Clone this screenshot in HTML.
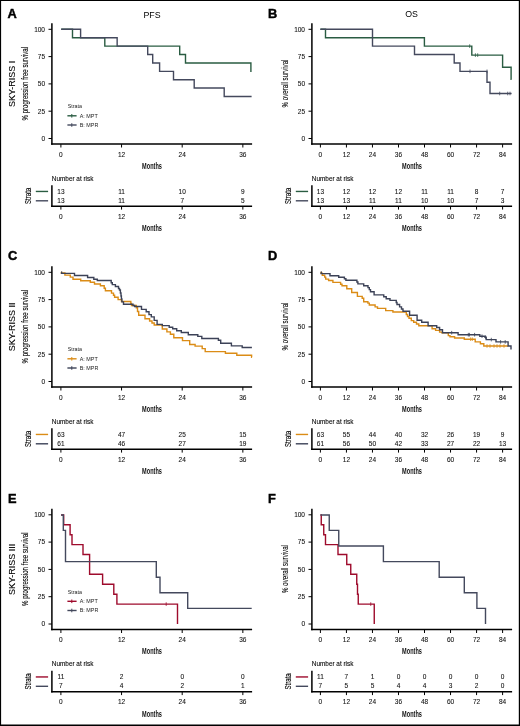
<!DOCTYPE html><html><head><meta charset="utf-8"><style>html,body{margin:0;padding:0;background:#fff;overflow:hidden;width:520px;height:726px;}svg{display:block;will-change:transform;}text{font-family:"Liberation Sans", sans-serif;}</style></head><body>
<svg width="520" height="726" viewBox="0 0 520 726">
<rect x="0" y="0" width="520" height="726" fill="#fff"/>
<text x="7.50" y="17.70" font-size="12.8" text-anchor="start" fill="#000" font-weight="bold" stroke="#000" stroke-width="0.45">A</text>
<text x="152.00" y="17.95" font-size="8.8" text-anchor="middle" fill="#000" font-weight="normal" >PFS</text>
<text transform="translate(14.90,83.80) rotate(-90)" x="0" y="0" font-size="9" text-anchor="middle" fill="#000" font-weight="normal" stroke="#000" stroke-width="0.1">SKY-RISS I</text>
<text transform="translate(27.50,83.70) rotate(-90)" x="0" y="0" font-size="8.6" text-anchor="middle" fill="#000" font-weight="normal" textLength="73.5" lengthAdjust="spacingAndGlyphs" stroke="#000" stroke-width="0.1">% progression free survival</text>
<line x1="51.90" y1="23.20" x2="51.90" y2="144.85" stroke="#000" stroke-width="1.5" stroke-linecap="butt"/>
<line x1="51.15" y1="144.10" x2="252.10" y2="144.10" stroke="#000" stroke-width="1.5" stroke-linecap="butt"/>
<line x1="48.50" y1="29.30" x2="51.90" y2="29.30" stroke="#000" stroke-width="1.0" stroke-linecap="butt"/>
<text x="45.00" y="31.60" font-size="6.5" text-anchor="end" fill="#111" font-weight="normal" stroke="#111" stroke-width="0.08">100</text>
<line x1="48.50" y1="56.60" x2="51.90" y2="56.60" stroke="#000" stroke-width="1.0" stroke-linecap="butt"/>
<text x="45.00" y="58.90" font-size="6.5" text-anchor="end" fill="#111" font-weight="normal" stroke="#111" stroke-width="0.08">75</text>
<line x1="48.50" y1="83.90" x2="51.90" y2="83.90" stroke="#000" stroke-width="1.0" stroke-linecap="butt"/>
<text x="45.00" y="86.20" font-size="6.5" text-anchor="end" fill="#111" font-weight="normal" stroke="#111" stroke-width="0.08">50</text>
<line x1="48.50" y1="111.20" x2="51.90" y2="111.20" stroke="#000" stroke-width="1.0" stroke-linecap="butt"/>
<text x="45.00" y="113.50" font-size="6.5" text-anchor="end" fill="#111" font-weight="normal" stroke="#111" stroke-width="0.08">25</text>
<line x1="48.50" y1="138.50" x2="51.90" y2="138.50" stroke="#000" stroke-width="1.0" stroke-linecap="butt"/>
<text x="45.00" y="140.80" font-size="6.5" text-anchor="end" fill="#111" font-weight="normal" stroke="#111" stroke-width="0.08">0</text>
<line x1="60.90" y1="144.10" x2="60.90" y2="147.50" stroke="#000" stroke-width="1.0" stroke-linecap="butt"/>
<text x="60.90" y="156.90" font-size="6.5" text-anchor="middle" fill="#111" font-weight="normal" stroke="#111" stroke-width="0.08">0</text>
<line x1="121.55" y1="144.10" x2="121.55" y2="147.50" stroke="#000" stroke-width="1.0" stroke-linecap="butt"/>
<text x="121.55" y="156.90" font-size="6.5" text-anchor="middle" fill="#111" font-weight="normal" stroke="#111" stroke-width="0.08">12</text>
<line x1="182.20" y1="144.10" x2="182.20" y2="147.50" stroke="#000" stroke-width="1.0" stroke-linecap="butt"/>
<text x="182.20" y="156.90" font-size="6.5" text-anchor="middle" fill="#111" font-weight="normal" stroke="#111" stroke-width="0.08">24</text>
<line x1="242.85" y1="144.10" x2="242.85" y2="147.50" stroke="#000" stroke-width="1.0" stroke-linecap="butt"/>
<text x="242.85" y="156.90" font-size="6.5" text-anchor="middle" fill="#111" font-weight="normal" stroke="#111" stroke-width="0.08">36</text>
<text x="152.00" y="168.90" font-size="9" text-anchor="middle" fill="#111" font-weight="bold" textLength="19.8" lengthAdjust="spacingAndGlyphs">Months</text>
<text x="67.80" y="108.00" font-size="6" text-anchor="start" fill="#222" font-weight="normal" textLength="14.2" lengthAdjust="spacingAndGlyphs">Strata</text>
<line x1="67.40" y1="115.80" x2="76.60" y2="115.80" stroke="#2a5c42" stroke-width="1.4" stroke-linecap="butt"/>
<line x1="71.80" y1="114.00" x2="71.80" y2="117.60" stroke="#2a5c42" stroke-width="1.0" stroke-linecap="butt"/>
<text x="79.70" y="117.70" font-size="6" text-anchor="start" fill="#222" font-weight="normal" textLength="18.0" lengthAdjust="spacingAndGlyphs">A: MPT</text>
<line x1="67.40" y1="125.00" x2="76.60" y2="125.00" stroke="#44495d" stroke-width="1.4" stroke-linecap="butt"/>
<line x1="71.80" y1="123.20" x2="71.80" y2="126.80" stroke="#44495d" stroke-width="1.0" stroke-linecap="butt"/>
<text x="79.70" y="126.90" font-size="6" text-anchor="start" fill="#222" font-weight="normal" textLength="18.6" lengthAdjust="spacingAndGlyphs">B: MPR</text>
<text x="51.85" y="180.80" font-size="6.4" text-anchor="start" fill="#000" font-weight="normal" stroke="#000" stroke-width="0.08">Number at risk</text>
<line x1="51.90" y1="185.30" x2="51.90" y2="207.00" stroke="#000" stroke-width="1.5" stroke-linecap="butt"/>
<line x1="51.15" y1="206.25" x2="252.10" y2="206.25" stroke="#000" stroke-width="1.5" stroke-linecap="butt"/>
<text transform="translate(30.80,195.90) rotate(-90)" x="0" y="0" font-size="9.6" text-anchor="middle" fill="#000" font-weight="normal" textLength="16.2" lengthAdjust="spacingAndGlyphs" stroke="#000" stroke-width="0.12">Strata</text>
<line x1="35.80" y1="191.45" x2="48.10" y2="191.45" stroke="#2a5c42" stroke-width="1.4" stroke-linecap="butt"/>
<line x1="35.80" y1="200.80" x2="48.10" y2="200.80" stroke="#44495d" stroke-width="1.4" stroke-linecap="butt"/>
<line x1="60.90" y1="206.25" x2="60.90" y2="209.60" stroke="#000" stroke-width="1.0" stroke-linecap="butt"/>
<text x="60.90" y="218.80" font-size="6.5" text-anchor="middle" fill="#111" font-weight="normal" stroke="#111" stroke-width="0.08">0</text>
<text x="60.90" y="193.80" font-size="6.5" text-anchor="middle" fill="#111" font-weight="normal" stroke="#111" stroke-width="0.08">13</text>
<text x="60.90" y="202.80" font-size="6.5" text-anchor="middle" fill="#111" font-weight="normal" stroke="#111" stroke-width="0.08">13</text>
<line x1="121.55" y1="206.25" x2="121.55" y2="209.60" stroke="#000" stroke-width="1.0" stroke-linecap="butt"/>
<text x="121.55" y="218.80" font-size="6.5" text-anchor="middle" fill="#111" font-weight="normal" stroke="#111" stroke-width="0.08">12</text>
<text x="121.55" y="193.80" font-size="6.5" text-anchor="middle" fill="#111" font-weight="normal" stroke="#111" stroke-width="0.08">11</text>
<text x="121.55" y="202.80" font-size="6.5" text-anchor="middle" fill="#111" font-weight="normal" stroke="#111" stroke-width="0.08">11</text>
<line x1="182.20" y1="206.25" x2="182.20" y2="209.60" stroke="#000" stroke-width="1.0" stroke-linecap="butt"/>
<text x="182.20" y="218.80" font-size="6.5" text-anchor="middle" fill="#111" font-weight="normal" stroke="#111" stroke-width="0.08">24</text>
<text x="182.20" y="193.80" font-size="6.5" text-anchor="middle" fill="#111" font-weight="normal" stroke="#111" stroke-width="0.08">10</text>
<text x="182.20" y="202.80" font-size="6.5" text-anchor="middle" fill="#111" font-weight="normal" stroke="#111" stroke-width="0.08">7</text>
<line x1="242.85" y1="206.25" x2="242.85" y2="209.60" stroke="#000" stroke-width="1.0" stroke-linecap="butt"/>
<text x="242.85" y="218.80" font-size="6.5" text-anchor="middle" fill="#111" font-weight="normal" stroke="#111" stroke-width="0.08">36</text>
<text x="242.85" y="193.80" font-size="6.5" text-anchor="middle" fill="#111" font-weight="normal" stroke="#111" stroke-width="0.08">9</text>
<text x="242.85" y="202.80" font-size="6.5" text-anchor="middle" fill="#111" font-weight="normal" stroke="#111" stroke-width="0.08">5</text>
<text x="152.00" y="231.00" font-size="9" text-anchor="middle" fill="#111" font-weight="bold" textLength="19.8" lengthAdjust="spacingAndGlyphs">Months</text>
<text x="267.90" y="17.70" font-size="12.8" text-anchor="start" fill="#000" font-weight="bold" stroke="#000" stroke-width="0.45">B</text>
<text x="411.50" y="17.45" font-size="8.8" text-anchor="middle" fill="#000" font-weight="normal" >OS</text>
<text transform="translate(288.00,83.50) rotate(-90)" x="0" y="0" font-size="9" text-anchor="middle" fill="#000" font-weight="normal" textLength="48" lengthAdjust="spacingAndGlyphs" stroke="#000" stroke-width="0.1">% overall survival</text>
<line x1="311.90" y1="23.20" x2="311.90" y2="144.85" stroke="#000" stroke-width="1.5" stroke-linecap="butt"/>
<line x1="311.15" y1="144.10" x2="512.10" y2="144.10" stroke="#000" stroke-width="1.5" stroke-linecap="butt"/>
<line x1="308.50" y1="29.30" x2="311.90" y2="29.30" stroke="#000" stroke-width="1.0" stroke-linecap="butt"/>
<text x="305.00" y="31.60" font-size="6.5" text-anchor="end" fill="#111" font-weight="normal" stroke="#111" stroke-width="0.08">100</text>
<line x1="308.50" y1="56.60" x2="311.90" y2="56.60" stroke="#000" stroke-width="1.0" stroke-linecap="butt"/>
<text x="305.00" y="58.90" font-size="6.5" text-anchor="end" fill="#111" font-weight="normal" stroke="#111" stroke-width="0.08">75</text>
<line x1="308.50" y1="83.90" x2="311.90" y2="83.90" stroke="#000" stroke-width="1.0" stroke-linecap="butt"/>
<text x="305.00" y="86.20" font-size="6.5" text-anchor="end" fill="#111" font-weight="normal" stroke="#111" stroke-width="0.08">50</text>
<line x1="308.50" y1="111.20" x2="311.90" y2="111.20" stroke="#000" stroke-width="1.0" stroke-linecap="butt"/>
<text x="305.00" y="113.50" font-size="6.5" text-anchor="end" fill="#111" font-weight="normal" stroke="#111" stroke-width="0.08">25</text>
<line x1="308.50" y1="138.50" x2="311.90" y2="138.50" stroke="#000" stroke-width="1.0" stroke-linecap="butt"/>
<text x="305.00" y="140.80" font-size="6.5" text-anchor="end" fill="#111" font-weight="normal" stroke="#111" stroke-width="0.08">0</text>
<line x1="320.40" y1="144.10" x2="320.40" y2="147.50" stroke="#000" stroke-width="1.0" stroke-linecap="butt"/>
<text x="320.40" y="156.90" font-size="6.5" text-anchor="middle" fill="#111" font-weight="normal" stroke="#111" stroke-width="0.08">0</text>
<line x1="346.43" y1="144.10" x2="346.43" y2="147.50" stroke="#000" stroke-width="1.0" stroke-linecap="butt"/>
<text x="346.43" y="156.90" font-size="6.5" text-anchor="middle" fill="#111" font-weight="normal" stroke="#111" stroke-width="0.08">12</text>
<line x1="372.46" y1="144.10" x2="372.46" y2="147.50" stroke="#000" stroke-width="1.0" stroke-linecap="butt"/>
<text x="372.46" y="156.90" font-size="6.5" text-anchor="middle" fill="#111" font-weight="normal" stroke="#111" stroke-width="0.08">24</text>
<line x1="398.49" y1="144.10" x2="398.49" y2="147.50" stroke="#000" stroke-width="1.0" stroke-linecap="butt"/>
<text x="398.49" y="156.90" font-size="6.5" text-anchor="middle" fill="#111" font-weight="normal" stroke="#111" stroke-width="0.08">36</text>
<line x1="424.51" y1="144.10" x2="424.51" y2="147.50" stroke="#000" stroke-width="1.0" stroke-linecap="butt"/>
<text x="424.51" y="156.90" font-size="6.5" text-anchor="middle" fill="#111" font-weight="normal" stroke="#111" stroke-width="0.08">48</text>
<line x1="450.54" y1="144.10" x2="450.54" y2="147.50" stroke="#000" stroke-width="1.0" stroke-linecap="butt"/>
<text x="450.54" y="156.90" font-size="6.5" text-anchor="middle" fill="#111" font-weight="normal" stroke="#111" stroke-width="0.08">60</text>
<line x1="476.57" y1="144.10" x2="476.57" y2="147.50" stroke="#000" stroke-width="1.0" stroke-linecap="butt"/>
<text x="476.57" y="156.90" font-size="6.5" text-anchor="middle" fill="#111" font-weight="normal" stroke="#111" stroke-width="0.08">72</text>
<line x1="502.60" y1="144.10" x2="502.60" y2="147.50" stroke="#000" stroke-width="1.0" stroke-linecap="butt"/>
<text x="502.60" y="156.90" font-size="6.5" text-anchor="middle" fill="#111" font-weight="normal" stroke="#111" stroke-width="0.08">84</text>
<text x="412.00" y="168.90" font-size="9" text-anchor="middle" fill="#111" font-weight="bold" textLength="19.8" lengthAdjust="spacingAndGlyphs">Months</text>
<text x="311.85" y="180.80" font-size="6.4" text-anchor="start" fill="#000" font-weight="normal" stroke="#000" stroke-width="0.08">Number at risk</text>
<line x1="311.90" y1="185.30" x2="311.90" y2="207.00" stroke="#000" stroke-width="1.5" stroke-linecap="butt"/>
<line x1="311.15" y1="206.25" x2="512.10" y2="206.25" stroke="#000" stroke-width="1.5" stroke-linecap="butt"/>
<text transform="translate(290.80,195.90) rotate(-90)" x="0" y="0" font-size="9.6" text-anchor="middle" fill="#000" font-weight="normal" textLength="16.2" lengthAdjust="spacingAndGlyphs" stroke="#000" stroke-width="0.12">Strata</text>
<line x1="295.80" y1="191.45" x2="308.10" y2="191.45" stroke="#2a5c42" stroke-width="1.4" stroke-linecap="butt"/>
<line x1="295.80" y1="200.80" x2="308.10" y2="200.80" stroke="#44495d" stroke-width="1.4" stroke-linecap="butt"/>
<line x1="320.40" y1="206.25" x2="320.40" y2="209.60" stroke="#000" stroke-width="1.0" stroke-linecap="butt"/>
<text x="320.40" y="218.80" font-size="6.5" text-anchor="middle" fill="#111" font-weight="normal" stroke="#111" stroke-width="0.08">0</text>
<text x="320.40" y="193.80" font-size="6.5" text-anchor="middle" fill="#111" font-weight="normal" stroke="#111" stroke-width="0.08">13</text>
<text x="320.40" y="202.80" font-size="6.5" text-anchor="middle" fill="#111" font-weight="normal" stroke="#111" stroke-width="0.08">13</text>
<line x1="346.43" y1="206.25" x2="346.43" y2="209.60" stroke="#000" stroke-width="1.0" stroke-linecap="butt"/>
<text x="346.43" y="218.80" font-size="6.5" text-anchor="middle" fill="#111" font-weight="normal" stroke="#111" stroke-width="0.08">12</text>
<text x="346.43" y="193.80" font-size="6.5" text-anchor="middle" fill="#111" font-weight="normal" stroke="#111" stroke-width="0.08">12</text>
<text x="346.43" y="202.80" font-size="6.5" text-anchor="middle" fill="#111" font-weight="normal" stroke="#111" stroke-width="0.08">13</text>
<line x1="372.46" y1="206.25" x2="372.46" y2="209.60" stroke="#000" stroke-width="1.0" stroke-linecap="butt"/>
<text x="372.46" y="218.80" font-size="6.5" text-anchor="middle" fill="#111" font-weight="normal" stroke="#111" stroke-width="0.08">24</text>
<text x="372.46" y="193.80" font-size="6.5" text-anchor="middle" fill="#111" font-weight="normal" stroke="#111" stroke-width="0.08">12</text>
<text x="372.46" y="202.80" font-size="6.5" text-anchor="middle" fill="#111" font-weight="normal" stroke="#111" stroke-width="0.08">11</text>
<line x1="398.49" y1="206.25" x2="398.49" y2="209.60" stroke="#000" stroke-width="1.0" stroke-linecap="butt"/>
<text x="398.49" y="218.80" font-size="6.5" text-anchor="middle" fill="#111" font-weight="normal" stroke="#111" stroke-width="0.08">36</text>
<text x="398.49" y="193.80" font-size="6.5" text-anchor="middle" fill="#111" font-weight="normal" stroke="#111" stroke-width="0.08">12</text>
<text x="398.49" y="202.80" font-size="6.5" text-anchor="middle" fill="#111" font-weight="normal" stroke="#111" stroke-width="0.08">11</text>
<line x1="424.51" y1="206.25" x2="424.51" y2="209.60" stroke="#000" stroke-width="1.0" stroke-linecap="butt"/>
<text x="424.51" y="218.80" font-size="6.5" text-anchor="middle" fill="#111" font-weight="normal" stroke="#111" stroke-width="0.08">48</text>
<text x="424.51" y="193.80" font-size="6.5" text-anchor="middle" fill="#111" font-weight="normal" stroke="#111" stroke-width="0.08">11</text>
<text x="424.51" y="202.80" font-size="6.5" text-anchor="middle" fill="#111" font-weight="normal" stroke="#111" stroke-width="0.08">10</text>
<line x1="450.54" y1="206.25" x2="450.54" y2="209.60" stroke="#000" stroke-width="1.0" stroke-linecap="butt"/>
<text x="450.54" y="218.80" font-size="6.5" text-anchor="middle" fill="#111" font-weight="normal" stroke="#111" stroke-width="0.08">60</text>
<text x="450.54" y="193.80" font-size="6.5" text-anchor="middle" fill="#111" font-weight="normal" stroke="#111" stroke-width="0.08">11</text>
<text x="450.54" y="202.80" font-size="6.5" text-anchor="middle" fill="#111" font-weight="normal" stroke="#111" stroke-width="0.08">10</text>
<line x1="476.57" y1="206.25" x2="476.57" y2="209.60" stroke="#000" stroke-width="1.0" stroke-linecap="butt"/>
<text x="476.57" y="218.80" font-size="6.5" text-anchor="middle" fill="#111" font-weight="normal" stroke="#111" stroke-width="0.08">72</text>
<text x="476.57" y="193.80" font-size="6.5" text-anchor="middle" fill="#111" font-weight="normal" stroke="#111" stroke-width="0.08">8</text>
<text x="476.57" y="202.80" font-size="6.5" text-anchor="middle" fill="#111" font-weight="normal" stroke="#111" stroke-width="0.08">7</text>
<line x1="502.60" y1="206.25" x2="502.60" y2="209.60" stroke="#000" stroke-width="1.0" stroke-linecap="butt"/>
<text x="502.60" y="218.80" font-size="6.5" text-anchor="middle" fill="#111" font-weight="normal" stroke="#111" stroke-width="0.08">84</text>
<text x="502.60" y="193.80" font-size="6.5" text-anchor="middle" fill="#111" font-weight="normal" stroke="#111" stroke-width="0.08">7</text>
<text x="502.60" y="202.80" font-size="6.5" text-anchor="middle" fill="#111" font-weight="normal" stroke="#111" stroke-width="0.08">3</text>
<text x="412.00" y="231.00" font-size="9" text-anchor="middle" fill="#111" font-weight="bold" textLength="19.8" lengthAdjust="spacingAndGlyphs">Months</text>
<text x="7.90" y="259.90" font-size="12.8" text-anchor="start" fill="#000" font-weight="bold" stroke="#000" stroke-width="0.45">C</text>
<text transform="translate(14.90,326.80) rotate(-90)" x="0" y="0" font-size="9" text-anchor="middle" fill="#000" font-weight="normal" stroke="#000" stroke-width="0.1">SKY-RISS II</text>
<text transform="translate(27.50,326.70) rotate(-90)" x="0" y="0" font-size="8.6" text-anchor="middle" fill="#000" font-weight="normal" textLength="73.5" lengthAdjust="spacingAndGlyphs" stroke="#000" stroke-width="0.1">% progression free survival</text>
<line x1="51.90" y1="266.20" x2="51.90" y2="387.85" stroke="#000" stroke-width="1.5" stroke-linecap="butt"/>
<line x1="51.15" y1="387.10" x2="252.10" y2="387.10" stroke="#000" stroke-width="1.5" stroke-linecap="butt"/>
<line x1="48.50" y1="272.30" x2="51.90" y2="272.30" stroke="#000" stroke-width="1.0" stroke-linecap="butt"/>
<text x="45.00" y="274.60" font-size="6.5" text-anchor="end" fill="#111" font-weight="normal" stroke="#111" stroke-width="0.08">100</text>
<line x1="48.50" y1="299.60" x2="51.90" y2="299.60" stroke="#000" stroke-width="1.0" stroke-linecap="butt"/>
<text x="45.00" y="301.90" font-size="6.5" text-anchor="end" fill="#111" font-weight="normal" stroke="#111" stroke-width="0.08">75</text>
<line x1="48.50" y1="326.90" x2="51.90" y2="326.90" stroke="#000" stroke-width="1.0" stroke-linecap="butt"/>
<text x="45.00" y="329.20" font-size="6.5" text-anchor="end" fill="#111" font-weight="normal" stroke="#111" stroke-width="0.08">50</text>
<line x1="48.50" y1="354.20" x2="51.90" y2="354.20" stroke="#000" stroke-width="1.0" stroke-linecap="butt"/>
<text x="45.00" y="356.50" font-size="6.5" text-anchor="end" fill="#111" font-weight="normal" stroke="#111" stroke-width="0.08">25</text>
<line x1="48.50" y1="381.50" x2="51.90" y2="381.50" stroke="#000" stroke-width="1.0" stroke-linecap="butt"/>
<text x="45.00" y="383.80" font-size="6.5" text-anchor="end" fill="#111" font-weight="normal" stroke="#111" stroke-width="0.08">0</text>
<line x1="60.90" y1="387.10" x2="60.90" y2="390.50" stroke="#000" stroke-width="1.0" stroke-linecap="butt"/>
<text x="60.90" y="399.90" font-size="6.5" text-anchor="middle" fill="#111" font-weight="normal" stroke="#111" stroke-width="0.08">0</text>
<line x1="121.55" y1="387.10" x2="121.55" y2="390.50" stroke="#000" stroke-width="1.0" stroke-linecap="butt"/>
<text x="121.55" y="399.90" font-size="6.5" text-anchor="middle" fill="#111" font-weight="normal" stroke="#111" stroke-width="0.08">12</text>
<line x1="182.20" y1="387.10" x2="182.20" y2="390.50" stroke="#000" stroke-width="1.0" stroke-linecap="butt"/>
<text x="182.20" y="399.90" font-size="6.5" text-anchor="middle" fill="#111" font-weight="normal" stroke="#111" stroke-width="0.08">24</text>
<line x1="242.85" y1="387.10" x2="242.85" y2="390.50" stroke="#000" stroke-width="1.0" stroke-linecap="butt"/>
<text x="242.85" y="399.90" font-size="6.5" text-anchor="middle" fill="#111" font-weight="normal" stroke="#111" stroke-width="0.08">36</text>
<text x="152.00" y="411.90" font-size="9" text-anchor="middle" fill="#111" font-weight="bold" textLength="19.8" lengthAdjust="spacingAndGlyphs">Months</text>
<text x="67.80" y="351.00" font-size="6" text-anchor="start" fill="#222" font-weight="normal" textLength="14.2" lengthAdjust="spacingAndGlyphs">Strata</text>
<line x1="67.40" y1="358.80" x2="76.60" y2="358.80" stroke="#db8c16" stroke-width="1.4" stroke-linecap="butt"/>
<line x1="71.80" y1="357.00" x2="71.80" y2="360.60" stroke="#db8c16" stroke-width="1.0" stroke-linecap="butt"/>
<text x="79.70" y="360.70" font-size="6" text-anchor="start" fill="#222" font-weight="normal" textLength="18.0" lengthAdjust="spacingAndGlyphs">A: MPT</text>
<line x1="67.40" y1="368.00" x2="76.60" y2="368.00" stroke="#3c4257" stroke-width="1.4" stroke-linecap="butt"/>
<line x1="71.80" y1="366.20" x2="71.80" y2="369.80" stroke="#3c4257" stroke-width="1.0" stroke-linecap="butt"/>
<text x="79.70" y="369.90" font-size="6" text-anchor="start" fill="#222" font-weight="normal" textLength="18.6" lengthAdjust="spacingAndGlyphs">B: MPR</text>
<text x="51.85" y="423.80" font-size="6.4" text-anchor="start" fill="#000" font-weight="normal" stroke="#000" stroke-width="0.08">Number at risk</text>
<line x1="51.90" y1="428.30" x2="51.90" y2="450.00" stroke="#000" stroke-width="1.5" stroke-linecap="butt"/>
<line x1="51.15" y1="449.25" x2="252.10" y2="449.25" stroke="#000" stroke-width="1.5" stroke-linecap="butt"/>
<text transform="translate(30.80,438.90) rotate(-90)" x="0" y="0" font-size="9.6" text-anchor="middle" fill="#000" font-weight="normal" textLength="16.2" lengthAdjust="spacingAndGlyphs" stroke="#000" stroke-width="0.12">Strata</text>
<line x1="35.80" y1="434.45" x2="48.10" y2="434.45" stroke="#db8c16" stroke-width="1.4" stroke-linecap="butt"/>
<line x1="35.80" y1="443.80" x2="48.10" y2="443.80" stroke="#3c4257" stroke-width="1.4" stroke-linecap="butt"/>
<line x1="60.90" y1="449.25" x2="60.90" y2="452.60" stroke="#000" stroke-width="1.0" stroke-linecap="butt"/>
<text x="60.90" y="461.80" font-size="6.5" text-anchor="middle" fill="#111" font-weight="normal" stroke="#111" stroke-width="0.08">0</text>
<text x="60.90" y="436.80" font-size="6.5" text-anchor="middle" fill="#111" font-weight="normal" stroke="#111" stroke-width="0.08">63</text>
<text x="60.90" y="445.80" font-size="6.5" text-anchor="middle" fill="#111" font-weight="normal" stroke="#111" stroke-width="0.08">61</text>
<line x1="121.55" y1="449.25" x2="121.55" y2="452.60" stroke="#000" stroke-width="1.0" stroke-linecap="butt"/>
<text x="121.55" y="461.80" font-size="6.5" text-anchor="middle" fill="#111" font-weight="normal" stroke="#111" stroke-width="0.08">12</text>
<text x="121.55" y="436.80" font-size="6.5" text-anchor="middle" fill="#111" font-weight="normal" stroke="#111" stroke-width="0.08">47</text>
<text x="121.55" y="445.80" font-size="6.5" text-anchor="middle" fill="#111" font-weight="normal" stroke="#111" stroke-width="0.08">46</text>
<line x1="182.20" y1="449.25" x2="182.20" y2="452.60" stroke="#000" stroke-width="1.0" stroke-linecap="butt"/>
<text x="182.20" y="461.80" font-size="6.5" text-anchor="middle" fill="#111" font-weight="normal" stroke="#111" stroke-width="0.08">24</text>
<text x="182.20" y="436.80" font-size="6.5" text-anchor="middle" fill="#111" font-weight="normal" stroke="#111" stroke-width="0.08">25</text>
<text x="182.20" y="445.80" font-size="6.5" text-anchor="middle" fill="#111" font-weight="normal" stroke="#111" stroke-width="0.08">27</text>
<line x1="242.85" y1="449.25" x2="242.85" y2="452.60" stroke="#000" stroke-width="1.0" stroke-linecap="butt"/>
<text x="242.85" y="461.80" font-size="6.5" text-anchor="middle" fill="#111" font-weight="normal" stroke="#111" stroke-width="0.08">36</text>
<text x="242.85" y="436.80" font-size="6.5" text-anchor="middle" fill="#111" font-weight="normal" stroke="#111" stroke-width="0.08">15</text>
<text x="242.85" y="445.80" font-size="6.5" text-anchor="middle" fill="#111" font-weight="normal" stroke="#111" stroke-width="0.08">19</text>
<text x="152.00" y="474.00" font-size="9" text-anchor="middle" fill="#111" font-weight="bold" textLength="19.8" lengthAdjust="spacingAndGlyphs">Months</text>
<text x="267.90" y="259.90" font-size="12.8" text-anchor="start" fill="#000" font-weight="bold" stroke="#000" stroke-width="0.45">D</text>
<text transform="translate(288.00,326.50) rotate(-90)" x="0" y="0" font-size="9" text-anchor="middle" fill="#000" font-weight="normal" textLength="48" lengthAdjust="spacingAndGlyphs" stroke="#000" stroke-width="0.1">% overall survival</text>
<line x1="311.90" y1="266.20" x2="311.90" y2="387.85" stroke="#000" stroke-width="1.5" stroke-linecap="butt"/>
<line x1="311.15" y1="387.10" x2="512.10" y2="387.10" stroke="#000" stroke-width="1.5" stroke-linecap="butt"/>
<line x1="308.50" y1="272.30" x2="311.90" y2="272.30" stroke="#000" stroke-width="1.0" stroke-linecap="butt"/>
<text x="305.00" y="274.60" font-size="6.5" text-anchor="end" fill="#111" font-weight="normal" stroke="#111" stroke-width="0.08">100</text>
<line x1="308.50" y1="299.60" x2="311.90" y2="299.60" stroke="#000" stroke-width="1.0" stroke-linecap="butt"/>
<text x="305.00" y="301.90" font-size="6.5" text-anchor="end" fill="#111" font-weight="normal" stroke="#111" stroke-width="0.08">75</text>
<line x1="308.50" y1="326.90" x2="311.90" y2="326.90" stroke="#000" stroke-width="1.0" stroke-linecap="butt"/>
<text x="305.00" y="329.20" font-size="6.5" text-anchor="end" fill="#111" font-weight="normal" stroke="#111" stroke-width="0.08">50</text>
<line x1="308.50" y1="354.20" x2="311.90" y2="354.20" stroke="#000" stroke-width="1.0" stroke-linecap="butt"/>
<text x="305.00" y="356.50" font-size="6.5" text-anchor="end" fill="#111" font-weight="normal" stroke="#111" stroke-width="0.08">25</text>
<line x1="308.50" y1="381.50" x2="311.90" y2="381.50" stroke="#000" stroke-width="1.0" stroke-linecap="butt"/>
<text x="305.00" y="383.80" font-size="6.5" text-anchor="end" fill="#111" font-weight="normal" stroke="#111" stroke-width="0.08">0</text>
<line x1="320.40" y1="387.10" x2="320.40" y2="390.50" stroke="#000" stroke-width="1.0" stroke-linecap="butt"/>
<text x="320.40" y="399.90" font-size="6.5" text-anchor="middle" fill="#111" font-weight="normal" stroke="#111" stroke-width="0.08">0</text>
<line x1="346.43" y1="387.10" x2="346.43" y2="390.50" stroke="#000" stroke-width="1.0" stroke-linecap="butt"/>
<text x="346.43" y="399.90" font-size="6.5" text-anchor="middle" fill="#111" font-weight="normal" stroke="#111" stroke-width="0.08">12</text>
<line x1="372.46" y1="387.10" x2="372.46" y2="390.50" stroke="#000" stroke-width="1.0" stroke-linecap="butt"/>
<text x="372.46" y="399.90" font-size="6.5" text-anchor="middle" fill="#111" font-weight="normal" stroke="#111" stroke-width="0.08">24</text>
<line x1="398.49" y1="387.10" x2="398.49" y2="390.50" stroke="#000" stroke-width="1.0" stroke-linecap="butt"/>
<text x="398.49" y="399.90" font-size="6.5" text-anchor="middle" fill="#111" font-weight="normal" stroke="#111" stroke-width="0.08">36</text>
<line x1="424.51" y1="387.10" x2="424.51" y2="390.50" stroke="#000" stroke-width="1.0" stroke-linecap="butt"/>
<text x="424.51" y="399.90" font-size="6.5" text-anchor="middle" fill="#111" font-weight="normal" stroke="#111" stroke-width="0.08">48</text>
<line x1="450.54" y1="387.10" x2="450.54" y2="390.50" stroke="#000" stroke-width="1.0" stroke-linecap="butt"/>
<text x="450.54" y="399.90" font-size="6.5" text-anchor="middle" fill="#111" font-weight="normal" stroke="#111" stroke-width="0.08">60</text>
<line x1="476.57" y1="387.10" x2="476.57" y2="390.50" stroke="#000" stroke-width="1.0" stroke-linecap="butt"/>
<text x="476.57" y="399.90" font-size="6.5" text-anchor="middle" fill="#111" font-weight="normal" stroke="#111" stroke-width="0.08">72</text>
<line x1="502.60" y1="387.10" x2="502.60" y2="390.50" stroke="#000" stroke-width="1.0" stroke-linecap="butt"/>
<text x="502.60" y="399.90" font-size="6.5" text-anchor="middle" fill="#111" font-weight="normal" stroke="#111" stroke-width="0.08">84</text>
<text x="412.00" y="411.90" font-size="9" text-anchor="middle" fill="#111" font-weight="bold" textLength="19.8" lengthAdjust="spacingAndGlyphs">Months</text>
<text x="311.85" y="423.80" font-size="6.4" text-anchor="start" fill="#000" font-weight="normal" stroke="#000" stroke-width="0.08">Number at risk</text>
<line x1="311.90" y1="428.30" x2="311.90" y2="450.00" stroke="#000" stroke-width="1.5" stroke-linecap="butt"/>
<line x1="311.15" y1="449.25" x2="512.10" y2="449.25" stroke="#000" stroke-width="1.5" stroke-linecap="butt"/>
<text transform="translate(290.80,438.90) rotate(-90)" x="0" y="0" font-size="9.6" text-anchor="middle" fill="#000" font-weight="normal" textLength="16.2" lengthAdjust="spacingAndGlyphs" stroke="#000" stroke-width="0.12">Strata</text>
<line x1="295.80" y1="434.45" x2="308.10" y2="434.45" stroke="#db8c16" stroke-width="1.4" stroke-linecap="butt"/>
<line x1="295.80" y1="443.80" x2="308.10" y2="443.80" stroke="#3c4257" stroke-width="1.4" stroke-linecap="butt"/>
<line x1="320.40" y1="449.25" x2="320.40" y2="452.60" stroke="#000" stroke-width="1.0" stroke-linecap="butt"/>
<text x="320.40" y="461.80" font-size="6.5" text-anchor="middle" fill="#111" font-weight="normal" stroke="#111" stroke-width="0.08">0</text>
<text x="320.40" y="436.80" font-size="6.5" text-anchor="middle" fill="#111" font-weight="normal" stroke="#111" stroke-width="0.08">63</text>
<text x="320.40" y="445.80" font-size="6.5" text-anchor="middle" fill="#111" font-weight="normal" stroke="#111" stroke-width="0.08">61</text>
<line x1="346.43" y1="449.25" x2="346.43" y2="452.60" stroke="#000" stroke-width="1.0" stroke-linecap="butt"/>
<text x="346.43" y="461.80" font-size="6.5" text-anchor="middle" fill="#111" font-weight="normal" stroke="#111" stroke-width="0.08">12</text>
<text x="346.43" y="436.80" font-size="6.5" text-anchor="middle" fill="#111" font-weight="normal" stroke="#111" stroke-width="0.08">55</text>
<text x="346.43" y="445.80" font-size="6.5" text-anchor="middle" fill="#111" font-weight="normal" stroke="#111" stroke-width="0.08">56</text>
<line x1="372.46" y1="449.25" x2="372.46" y2="452.60" stroke="#000" stroke-width="1.0" stroke-linecap="butt"/>
<text x="372.46" y="461.80" font-size="6.5" text-anchor="middle" fill="#111" font-weight="normal" stroke="#111" stroke-width="0.08">24</text>
<text x="372.46" y="436.80" font-size="6.5" text-anchor="middle" fill="#111" font-weight="normal" stroke="#111" stroke-width="0.08">44</text>
<text x="372.46" y="445.80" font-size="6.5" text-anchor="middle" fill="#111" font-weight="normal" stroke="#111" stroke-width="0.08">50</text>
<line x1="398.49" y1="449.25" x2="398.49" y2="452.60" stroke="#000" stroke-width="1.0" stroke-linecap="butt"/>
<text x="398.49" y="461.80" font-size="6.5" text-anchor="middle" fill="#111" font-weight="normal" stroke="#111" stroke-width="0.08">36</text>
<text x="398.49" y="436.80" font-size="6.5" text-anchor="middle" fill="#111" font-weight="normal" stroke="#111" stroke-width="0.08">40</text>
<text x="398.49" y="445.80" font-size="6.5" text-anchor="middle" fill="#111" font-weight="normal" stroke="#111" stroke-width="0.08">42</text>
<line x1="424.51" y1="449.25" x2="424.51" y2="452.60" stroke="#000" stroke-width="1.0" stroke-linecap="butt"/>
<text x="424.51" y="461.80" font-size="6.5" text-anchor="middle" fill="#111" font-weight="normal" stroke="#111" stroke-width="0.08">48</text>
<text x="424.51" y="436.80" font-size="6.5" text-anchor="middle" fill="#111" font-weight="normal" stroke="#111" stroke-width="0.08">32</text>
<text x="424.51" y="445.80" font-size="6.5" text-anchor="middle" fill="#111" font-weight="normal" stroke="#111" stroke-width="0.08">33</text>
<line x1="450.54" y1="449.25" x2="450.54" y2="452.60" stroke="#000" stroke-width="1.0" stroke-linecap="butt"/>
<text x="450.54" y="461.80" font-size="6.5" text-anchor="middle" fill="#111" font-weight="normal" stroke="#111" stroke-width="0.08">60</text>
<text x="450.54" y="436.80" font-size="6.5" text-anchor="middle" fill="#111" font-weight="normal" stroke="#111" stroke-width="0.08">26</text>
<text x="450.54" y="445.80" font-size="6.5" text-anchor="middle" fill="#111" font-weight="normal" stroke="#111" stroke-width="0.08">27</text>
<line x1="476.57" y1="449.25" x2="476.57" y2="452.60" stroke="#000" stroke-width="1.0" stroke-linecap="butt"/>
<text x="476.57" y="461.80" font-size="6.5" text-anchor="middle" fill="#111" font-weight="normal" stroke="#111" stroke-width="0.08">72</text>
<text x="476.57" y="436.80" font-size="6.5" text-anchor="middle" fill="#111" font-weight="normal" stroke="#111" stroke-width="0.08">19</text>
<text x="476.57" y="445.80" font-size="6.5" text-anchor="middle" fill="#111" font-weight="normal" stroke="#111" stroke-width="0.08">22</text>
<line x1="502.60" y1="449.25" x2="502.60" y2="452.60" stroke="#000" stroke-width="1.0" stroke-linecap="butt"/>
<text x="502.60" y="461.80" font-size="6.5" text-anchor="middle" fill="#111" font-weight="normal" stroke="#111" stroke-width="0.08">84</text>
<text x="502.60" y="436.80" font-size="6.5" text-anchor="middle" fill="#111" font-weight="normal" stroke="#111" stroke-width="0.08">9</text>
<text x="502.60" y="445.80" font-size="6.5" text-anchor="middle" fill="#111" font-weight="normal" stroke="#111" stroke-width="0.08">13</text>
<text x="412.00" y="474.00" font-size="9" text-anchor="middle" fill="#111" font-weight="bold" textLength="19.8" lengthAdjust="spacingAndGlyphs">Months</text>
<text x="7.90" y="502.90" font-size="12.8" text-anchor="start" fill="#000" font-weight="bold" stroke="#000" stroke-width="0.45">E</text>
<text transform="translate(14.90,569.30) rotate(-90)" x="0" y="0" font-size="9" text-anchor="middle" fill="#000" font-weight="normal" stroke="#000" stroke-width="0.1">SKY-RISS III</text>
<text transform="translate(27.50,569.20) rotate(-90)" x="0" y="0" font-size="8.6" text-anchor="middle" fill="#000" font-weight="normal" textLength="73.5" lengthAdjust="spacingAndGlyphs" stroke="#000" stroke-width="0.1">% progression free survival</text>
<line x1="51.90" y1="508.70" x2="51.90" y2="630.35" stroke="#000" stroke-width="1.5" stroke-linecap="butt"/>
<line x1="51.15" y1="629.60" x2="252.10" y2="629.60" stroke="#000" stroke-width="1.5" stroke-linecap="butt"/>
<line x1="48.50" y1="514.80" x2="51.90" y2="514.80" stroke="#000" stroke-width="1.0" stroke-linecap="butt"/>
<text x="45.00" y="517.10" font-size="6.5" text-anchor="end" fill="#111" font-weight="normal" stroke="#111" stroke-width="0.08">100</text>
<line x1="48.50" y1="542.10" x2="51.90" y2="542.10" stroke="#000" stroke-width="1.0" stroke-linecap="butt"/>
<text x="45.00" y="544.40" font-size="6.5" text-anchor="end" fill="#111" font-weight="normal" stroke="#111" stroke-width="0.08">75</text>
<line x1="48.50" y1="569.40" x2="51.90" y2="569.40" stroke="#000" stroke-width="1.0" stroke-linecap="butt"/>
<text x="45.00" y="571.70" font-size="6.5" text-anchor="end" fill="#111" font-weight="normal" stroke="#111" stroke-width="0.08">50</text>
<line x1="48.50" y1="596.70" x2="51.90" y2="596.70" stroke="#000" stroke-width="1.0" stroke-linecap="butt"/>
<text x="45.00" y="599.00" font-size="6.5" text-anchor="end" fill="#111" font-weight="normal" stroke="#111" stroke-width="0.08">25</text>
<line x1="48.50" y1="624.00" x2="51.90" y2="624.00" stroke="#000" stroke-width="1.0" stroke-linecap="butt"/>
<text x="45.00" y="626.30" font-size="6.5" text-anchor="end" fill="#111" font-weight="normal" stroke="#111" stroke-width="0.08">0</text>
<line x1="60.90" y1="629.60" x2="60.90" y2="633.00" stroke="#000" stroke-width="1.0" stroke-linecap="butt"/>
<text x="60.90" y="642.40" font-size="6.5" text-anchor="middle" fill="#111" font-weight="normal" stroke="#111" stroke-width="0.08">0</text>
<line x1="121.55" y1="629.60" x2="121.55" y2="633.00" stroke="#000" stroke-width="1.0" stroke-linecap="butt"/>
<text x="121.55" y="642.40" font-size="6.5" text-anchor="middle" fill="#111" font-weight="normal" stroke="#111" stroke-width="0.08">12</text>
<line x1="182.20" y1="629.60" x2="182.20" y2="633.00" stroke="#000" stroke-width="1.0" stroke-linecap="butt"/>
<text x="182.20" y="642.40" font-size="6.5" text-anchor="middle" fill="#111" font-weight="normal" stroke="#111" stroke-width="0.08">24</text>
<line x1="242.85" y1="629.60" x2="242.85" y2="633.00" stroke="#000" stroke-width="1.0" stroke-linecap="butt"/>
<text x="242.85" y="642.40" font-size="6.5" text-anchor="middle" fill="#111" font-weight="normal" stroke="#111" stroke-width="0.08">36</text>
<text x="152.00" y="654.40" font-size="9" text-anchor="middle" fill="#111" font-weight="bold" textLength="19.8" lengthAdjust="spacingAndGlyphs">Months</text>
<text x="67.80" y="593.50" font-size="6" text-anchor="start" fill="#222" font-weight="normal" textLength="14.2" lengthAdjust="spacingAndGlyphs">Strata</text>
<line x1="67.40" y1="601.30" x2="76.60" y2="601.30" stroke="#9e0b2c" stroke-width="1.4" stroke-linecap="butt"/>
<line x1="71.80" y1="599.50" x2="71.80" y2="603.10" stroke="#9e0b2c" stroke-width="1.0" stroke-linecap="butt"/>
<text x="79.70" y="603.20" font-size="6" text-anchor="start" fill="#222" font-weight="normal" textLength="18.0" lengthAdjust="spacingAndGlyphs">A: MPT</text>
<line x1="67.40" y1="610.50" x2="76.60" y2="610.50" stroke="#44495d" stroke-width="1.4" stroke-linecap="butt"/>
<line x1="71.80" y1="608.70" x2="71.80" y2="612.30" stroke="#44495d" stroke-width="1.0" stroke-linecap="butt"/>
<text x="79.70" y="612.40" font-size="6" text-anchor="start" fill="#222" font-weight="normal" textLength="18.6" lengthAdjust="spacingAndGlyphs">B: MPR</text>
<text x="51.85" y="666.30" font-size="6.4" text-anchor="start" fill="#000" font-weight="normal" stroke="#000" stroke-width="0.08">Number at risk</text>
<line x1="51.90" y1="670.80" x2="51.90" y2="692.50" stroke="#000" stroke-width="1.5" stroke-linecap="butt"/>
<line x1="51.15" y1="691.75" x2="252.10" y2="691.75" stroke="#000" stroke-width="1.5" stroke-linecap="butt"/>
<text transform="translate(30.80,681.40) rotate(-90)" x="0" y="0" font-size="9.6" text-anchor="middle" fill="#000" font-weight="normal" textLength="16.2" lengthAdjust="spacingAndGlyphs" stroke="#000" stroke-width="0.12">Strata</text>
<line x1="35.80" y1="676.95" x2="48.10" y2="676.95" stroke="#9e0b2c" stroke-width="1.4" stroke-linecap="butt"/>
<line x1="35.80" y1="686.30" x2="48.10" y2="686.30" stroke="#44495d" stroke-width="1.4" stroke-linecap="butt"/>
<line x1="60.90" y1="691.75" x2="60.90" y2="695.10" stroke="#000" stroke-width="1.0" stroke-linecap="butt"/>
<text x="60.90" y="704.30" font-size="6.5" text-anchor="middle" fill="#111" font-weight="normal" stroke="#111" stroke-width="0.08">0</text>
<text x="60.90" y="679.30" font-size="6.5" text-anchor="middle" fill="#111" font-weight="normal" stroke="#111" stroke-width="0.08">11</text>
<text x="60.90" y="688.30" font-size="6.5" text-anchor="middle" fill="#111" font-weight="normal" stroke="#111" stroke-width="0.08">7</text>
<line x1="121.55" y1="691.75" x2="121.55" y2="695.10" stroke="#000" stroke-width="1.0" stroke-linecap="butt"/>
<text x="121.55" y="704.30" font-size="6.5" text-anchor="middle" fill="#111" font-weight="normal" stroke="#111" stroke-width="0.08">12</text>
<text x="121.55" y="679.30" font-size="6.5" text-anchor="middle" fill="#111" font-weight="normal" stroke="#111" stroke-width="0.08">2</text>
<text x="121.55" y="688.30" font-size="6.5" text-anchor="middle" fill="#111" font-weight="normal" stroke="#111" stroke-width="0.08">4</text>
<line x1="182.20" y1="691.75" x2="182.20" y2="695.10" stroke="#000" stroke-width="1.0" stroke-linecap="butt"/>
<text x="182.20" y="704.30" font-size="6.5" text-anchor="middle" fill="#111" font-weight="normal" stroke="#111" stroke-width="0.08">24</text>
<text x="182.20" y="679.30" font-size="6.5" text-anchor="middle" fill="#111" font-weight="normal" stroke="#111" stroke-width="0.08">0</text>
<text x="182.20" y="688.30" font-size="6.5" text-anchor="middle" fill="#111" font-weight="normal" stroke="#111" stroke-width="0.08">2</text>
<line x1="242.85" y1="691.75" x2="242.85" y2="695.10" stroke="#000" stroke-width="1.0" stroke-linecap="butt"/>
<text x="242.85" y="704.30" font-size="6.5" text-anchor="middle" fill="#111" font-weight="normal" stroke="#111" stroke-width="0.08">36</text>
<text x="242.85" y="679.30" font-size="6.5" text-anchor="middle" fill="#111" font-weight="normal" stroke="#111" stroke-width="0.08">0</text>
<text x="242.85" y="688.30" font-size="6.5" text-anchor="middle" fill="#111" font-weight="normal" stroke="#111" stroke-width="0.08">1</text>
<text x="152.00" y="716.50" font-size="9" text-anchor="middle" fill="#111" font-weight="bold" textLength="19.8" lengthAdjust="spacingAndGlyphs">Months</text>
<text x="267.90" y="502.90" font-size="12.8" text-anchor="start" fill="#000" font-weight="bold" stroke="#000" stroke-width="0.45">F</text>
<text transform="translate(288.00,569.00) rotate(-90)" x="0" y="0" font-size="9" text-anchor="middle" fill="#000" font-weight="normal" textLength="48" lengthAdjust="spacingAndGlyphs" stroke="#000" stroke-width="0.1">% overall survival</text>
<line x1="311.90" y1="508.70" x2="311.90" y2="630.35" stroke="#000" stroke-width="1.5" stroke-linecap="butt"/>
<line x1="311.15" y1="629.60" x2="512.10" y2="629.60" stroke="#000" stroke-width="1.5" stroke-linecap="butt"/>
<line x1="308.50" y1="514.80" x2="311.90" y2="514.80" stroke="#000" stroke-width="1.0" stroke-linecap="butt"/>
<text x="305.00" y="517.10" font-size="6.5" text-anchor="end" fill="#111" font-weight="normal" stroke="#111" stroke-width="0.08">100</text>
<line x1="308.50" y1="542.10" x2="311.90" y2="542.10" stroke="#000" stroke-width="1.0" stroke-linecap="butt"/>
<text x="305.00" y="544.40" font-size="6.5" text-anchor="end" fill="#111" font-weight="normal" stroke="#111" stroke-width="0.08">75</text>
<line x1="308.50" y1="569.40" x2="311.90" y2="569.40" stroke="#000" stroke-width="1.0" stroke-linecap="butt"/>
<text x="305.00" y="571.70" font-size="6.5" text-anchor="end" fill="#111" font-weight="normal" stroke="#111" stroke-width="0.08">50</text>
<line x1="308.50" y1="596.70" x2="311.90" y2="596.70" stroke="#000" stroke-width="1.0" stroke-linecap="butt"/>
<text x="305.00" y="599.00" font-size="6.5" text-anchor="end" fill="#111" font-weight="normal" stroke="#111" stroke-width="0.08">25</text>
<line x1="308.50" y1="624.00" x2="311.90" y2="624.00" stroke="#000" stroke-width="1.0" stroke-linecap="butt"/>
<text x="305.00" y="626.30" font-size="6.5" text-anchor="end" fill="#111" font-weight="normal" stroke="#111" stroke-width="0.08">0</text>
<line x1="320.40" y1="629.60" x2="320.40" y2="633.00" stroke="#000" stroke-width="1.0" stroke-linecap="butt"/>
<text x="320.40" y="642.40" font-size="6.5" text-anchor="middle" fill="#111" font-weight="normal" stroke="#111" stroke-width="0.08">0</text>
<line x1="346.43" y1="629.60" x2="346.43" y2="633.00" stroke="#000" stroke-width="1.0" stroke-linecap="butt"/>
<text x="346.43" y="642.40" font-size="6.5" text-anchor="middle" fill="#111" font-weight="normal" stroke="#111" stroke-width="0.08">12</text>
<line x1="372.46" y1="629.60" x2="372.46" y2="633.00" stroke="#000" stroke-width="1.0" stroke-linecap="butt"/>
<text x="372.46" y="642.40" font-size="6.5" text-anchor="middle" fill="#111" font-weight="normal" stroke="#111" stroke-width="0.08">24</text>
<line x1="398.49" y1="629.60" x2="398.49" y2="633.00" stroke="#000" stroke-width="1.0" stroke-linecap="butt"/>
<text x="398.49" y="642.40" font-size="6.5" text-anchor="middle" fill="#111" font-weight="normal" stroke="#111" stroke-width="0.08">36</text>
<line x1="424.51" y1="629.60" x2="424.51" y2="633.00" stroke="#000" stroke-width="1.0" stroke-linecap="butt"/>
<text x="424.51" y="642.40" font-size="6.5" text-anchor="middle" fill="#111" font-weight="normal" stroke="#111" stroke-width="0.08">48</text>
<line x1="450.54" y1="629.60" x2="450.54" y2="633.00" stroke="#000" stroke-width="1.0" stroke-linecap="butt"/>
<text x="450.54" y="642.40" font-size="6.5" text-anchor="middle" fill="#111" font-weight="normal" stroke="#111" stroke-width="0.08">60</text>
<line x1="476.57" y1="629.60" x2="476.57" y2="633.00" stroke="#000" stroke-width="1.0" stroke-linecap="butt"/>
<text x="476.57" y="642.40" font-size="6.5" text-anchor="middle" fill="#111" font-weight="normal" stroke="#111" stroke-width="0.08">72</text>
<line x1="502.60" y1="629.60" x2="502.60" y2="633.00" stroke="#000" stroke-width="1.0" stroke-linecap="butt"/>
<text x="502.60" y="642.40" font-size="6.5" text-anchor="middle" fill="#111" font-weight="normal" stroke="#111" stroke-width="0.08">84</text>
<text x="412.00" y="654.40" font-size="9" text-anchor="middle" fill="#111" font-weight="bold" textLength="19.8" lengthAdjust="spacingAndGlyphs">Months</text>
<text x="311.85" y="666.30" font-size="6.4" text-anchor="start" fill="#000" font-weight="normal" stroke="#000" stroke-width="0.08">Number at risk</text>
<line x1="311.90" y1="670.80" x2="311.90" y2="692.50" stroke="#000" stroke-width="1.5" stroke-linecap="butt"/>
<line x1="311.15" y1="691.75" x2="512.10" y2="691.75" stroke="#000" stroke-width="1.5" stroke-linecap="butt"/>
<text transform="translate(290.80,681.40) rotate(-90)" x="0" y="0" font-size="9.6" text-anchor="middle" fill="#000" font-weight="normal" textLength="16.2" lengthAdjust="spacingAndGlyphs" stroke="#000" stroke-width="0.12">Strata</text>
<line x1="295.80" y1="676.95" x2="308.10" y2="676.95" stroke="#9e0b2c" stroke-width="1.4" stroke-linecap="butt"/>
<line x1="295.80" y1="686.30" x2="308.10" y2="686.30" stroke="#44495d" stroke-width="1.4" stroke-linecap="butt"/>
<line x1="320.40" y1="691.75" x2="320.40" y2="695.10" stroke="#000" stroke-width="1.0" stroke-linecap="butt"/>
<text x="320.40" y="704.30" font-size="6.5" text-anchor="middle" fill="#111" font-weight="normal" stroke="#111" stroke-width="0.08">0</text>
<text x="320.40" y="679.30" font-size="6.5" text-anchor="middle" fill="#111" font-weight="normal" stroke="#111" stroke-width="0.08">11</text>
<text x="320.40" y="688.30" font-size="6.5" text-anchor="middle" fill="#111" font-weight="normal" stroke="#111" stroke-width="0.08">7</text>
<line x1="346.43" y1="691.75" x2="346.43" y2="695.10" stroke="#000" stroke-width="1.0" stroke-linecap="butt"/>
<text x="346.43" y="704.30" font-size="6.5" text-anchor="middle" fill="#111" font-weight="normal" stroke="#111" stroke-width="0.08">12</text>
<text x="346.43" y="679.30" font-size="6.5" text-anchor="middle" fill="#111" font-weight="normal" stroke="#111" stroke-width="0.08">7</text>
<text x="346.43" y="688.30" font-size="6.5" text-anchor="middle" fill="#111" font-weight="normal" stroke="#111" stroke-width="0.08">5</text>
<line x1="372.46" y1="691.75" x2="372.46" y2="695.10" stroke="#000" stroke-width="1.0" stroke-linecap="butt"/>
<text x="372.46" y="704.30" font-size="6.5" text-anchor="middle" fill="#111" font-weight="normal" stroke="#111" stroke-width="0.08">24</text>
<text x="372.46" y="679.30" font-size="6.5" text-anchor="middle" fill="#111" font-weight="normal" stroke="#111" stroke-width="0.08">1</text>
<text x="372.46" y="688.30" font-size="6.5" text-anchor="middle" fill="#111" font-weight="normal" stroke="#111" stroke-width="0.08">5</text>
<line x1="398.49" y1="691.75" x2="398.49" y2="695.10" stroke="#000" stroke-width="1.0" stroke-linecap="butt"/>
<text x="398.49" y="704.30" font-size="6.5" text-anchor="middle" fill="#111" font-weight="normal" stroke="#111" stroke-width="0.08">36</text>
<text x="398.49" y="679.30" font-size="6.5" text-anchor="middle" fill="#111" font-weight="normal" stroke="#111" stroke-width="0.08">0</text>
<text x="398.49" y="688.30" font-size="6.5" text-anchor="middle" fill="#111" font-weight="normal" stroke="#111" stroke-width="0.08">4</text>
<line x1="424.51" y1="691.75" x2="424.51" y2="695.10" stroke="#000" stroke-width="1.0" stroke-linecap="butt"/>
<text x="424.51" y="704.30" font-size="6.5" text-anchor="middle" fill="#111" font-weight="normal" stroke="#111" stroke-width="0.08">48</text>
<text x="424.51" y="679.30" font-size="6.5" text-anchor="middle" fill="#111" font-weight="normal" stroke="#111" stroke-width="0.08">0</text>
<text x="424.51" y="688.30" font-size="6.5" text-anchor="middle" fill="#111" font-weight="normal" stroke="#111" stroke-width="0.08">4</text>
<line x1="450.54" y1="691.75" x2="450.54" y2="695.10" stroke="#000" stroke-width="1.0" stroke-linecap="butt"/>
<text x="450.54" y="704.30" font-size="6.5" text-anchor="middle" fill="#111" font-weight="normal" stroke="#111" stroke-width="0.08">60</text>
<text x="450.54" y="679.30" font-size="6.5" text-anchor="middle" fill="#111" font-weight="normal" stroke="#111" stroke-width="0.08">0</text>
<text x="450.54" y="688.30" font-size="6.5" text-anchor="middle" fill="#111" font-weight="normal" stroke="#111" stroke-width="0.08">3</text>
<line x1="476.57" y1="691.75" x2="476.57" y2="695.10" stroke="#000" stroke-width="1.0" stroke-linecap="butt"/>
<text x="476.57" y="704.30" font-size="6.5" text-anchor="middle" fill="#111" font-weight="normal" stroke="#111" stroke-width="0.08">72</text>
<text x="476.57" y="679.30" font-size="6.5" text-anchor="middle" fill="#111" font-weight="normal" stroke="#111" stroke-width="0.08">0</text>
<text x="476.57" y="688.30" font-size="6.5" text-anchor="middle" fill="#111" font-weight="normal" stroke="#111" stroke-width="0.08">2</text>
<line x1="502.60" y1="691.75" x2="502.60" y2="695.10" stroke="#000" stroke-width="1.0" stroke-linecap="butt"/>
<text x="502.60" y="704.30" font-size="6.5" text-anchor="middle" fill="#111" font-weight="normal" stroke="#111" stroke-width="0.08">84</text>
<text x="502.60" y="679.30" font-size="6.5" text-anchor="middle" fill="#111" font-weight="normal" stroke="#111" stroke-width="0.08">0</text>
<text x="502.60" y="688.30" font-size="6.5" text-anchor="middle" fill="#111" font-weight="normal" stroke="#111" stroke-width="0.08">0</text>
<text x="412.00" y="716.50" font-size="9" text-anchor="middle" fill="#111" font-weight="bold" textLength="19.8" lengthAdjust="spacingAndGlyphs">Months</text>
<path d="M61.20,29.30 H72.50 V37.71 H104.80 V46.12 H179.70 V54.53 H185.50 V62.93 H250.90 V71.34 H251.60" fill="none" stroke="#2a5c42" stroke-width="1.4" stroke-linejoin="miter"/>
<path d="M61.20,29.30 H80.60 V37.71 H117.15 V46.12 H147.70 V54.53 H152.70 V62.93 H159.60 V71.34 H173.50 V79.75 H194.20 V88.05 H224.20 V96.46 H251.60" fill="none" stroke="#44495d" stroke-width="1.4" stroke-linejoin="miter"/>
<path d="M320.40,29.30 H325.50 V37.71 H424.40 V46.12 H471.80 V55.10 H502.60 V67.20 H511.10 V79.20 H511.60" fill="none" stroke="#2a5c42" stroke-width="1.4" stroke-linejoin="miter"/>
<line x1="469.70" y1="44.32" x2="469.70" y2="47.92" stroke="#2a5c42" stroke-width="0.8" stroke-linecap="butt"/>
<line x1="475.40" y1="53.30" x2="475.40" y2="56.90" stroke="#2a5c42" stroke-width="0.8" stroke-linecap="butt"/>
<line x1="477.70" y1="53.30" x2="477.70" y2="56.90" stroke="#2a5c42" stroke-width="0.8" stroke-linecap="butt"/>
<path d="M320.40,29.30 H372.50 V46.12 H414.50 V54.53 H454.20 V62.93 H460.00 V71.34 H487.00 V82.30 H490.00 V93.50 H511.60" fill="none" stroke="#44495d" stroke-width="1.4" stroke-linejoin="miter"/>
<line x1="470.00" y1="69.54" x2="470.00" y2="73.14" stroke="#44495d" stroke-width="0.8" stroke-linecap="butt"/>
<line x1="487.00" y1="69.54" x2="487.00" y2="73.14" stroke="#44495d" stroke-width="0.8" stroke-linecap="butt"/>
<line x1="499.70" y1="91.70" x2="499.70" y2="95.30" stroke="#44495d" stroke-width="0.8" stroke-linecap="butt"/>
<line x1="507.70" y1="91.70" x2="507.70" y2="95.30" stroke="#44495d" stroke-width="0.8" stroke-linecap="butt"/>
<line x1="510.00" y1="91.70" x2="510.00" y2="95.30" stroke="#44495d" stroke-width="0.8" stroke-linecap="butt"/>
<path d="M61.10,272.30 H61.30 V273.00 H64.90 V275.10 H70.30 V277.10 H73.00 V279.20 H80.70 V280.70 H90.30 V282.20 H94.50 V284.00 H100.40 V285.80 H104.20 V288.30 H105.40 V290.80 H111.50 V293.10 H113.50 V295.20 H114.60 V297.30 H118.10 V299.60 H121.50 V301.50 H130.80 V303.50 H131.50 V305.50 H136.30 V307.70 H137.50 V311.50 H138.70 V315.20 H145.00 V318.70 H149.60 V321.00 H152.00 V323.00 H154.20 V325.00 H162.30 V329.00 H166.90 V331.90 H170.40 V334.20 H173.80 V337.70 H182.50 V340.60 H189.70 V344.50 H195.10 V346.10 H202.20 V348.60 H205.20 V351.60 H225.40 V353.30 H236.80 V355.30 H251.60 V357.30 H251.90 V357.30" fill="none" stroke="#db8c16" stroke-width="1.4"/>
<path d="M61.10,272.30 H61.60 V273.40 H74.50 V275.50 H87.60 V277.50 H93.80 V279.20 H97.30 V280.50 H111.20 V282.70 H112.30 V284.60 H115.40 V286.50 H118.50 V288.50 H119.50 V290.00 H120.40 V293.00 H121.00 V296.00 H121.40 V299.00 H121.90 V301.90 H123.50 V304.20 H133.00 V305.50 H134.60 V306.50 H141.50 V309.40 H146.20 V311.70 H149.00 V314.60 H151.30 V316.90 H154.20 V320.40 H157.10 V324.40 H162.30 V325.60 H169.20 V327.30 H172.70 V328.80 H176.70 V330.80 H181.30 V332.50 H188.30 V334.70 H197.80 V336.40 H201.80 V338.50 H218.40 V340.20 H220.70 V343.20 H231.40 V345.90 H242.20 V347.50 H251.90 V347.50" fill="none" stroke="#3c4257" stroke-width="1.4"/>
<path d="M320.70,272.30 H321.00 V273.30 H322.30 V275.20 H324.70 V277.10 H325.70 V279.10 H328.60 V280.50 H332.90 V282.40 H340.60 V284.30 H342.00 V285.80 H346.80 V288.70 H351.70 V292.50 H357.40 V296.40 H362.20 V298.30 H363.70 V301.70 H367.90 V303.10 H369.30 V305.00 H375.10 V306.90 H377.50 V308.40 H385.70 V310.60 H392.90 V312.00 H406.30 V314.50 H407.50 V316.50 H409.00 V318.30 H411.30 V320.60 H413.70 V322.30 H416.50 V324.00 H418.80 V325.80 H432.10 V328.70 H435.60 V330.40 H439.60 V332.10 H441.90 V332.90 H448.30 V335.60 H450.00 V336.70 H454.60 V338.00 H464.30 V339.20 H475.20 V341.90 H480.40 V343.70 H483.80 V346.00 H508.10 V346.00" fill="none" stroke="#db8c16" stroke-width="1.4"/>
<line x1="470.60" y1="337.40" x2="470.60" y2="341.00" stroke="#db8c16" stroke-width="0.8" stroke-linecap="butt"/>
<line x1="472.30" y1="337.40" x2="472.30" y2="341.00" stroke="#db8c16" stroke-width="0.8" stroke-linecap="butt"/>
<line x1="487.00" y1="344.20" x2="487.00" y2="347.80" stroke="#db8c16" stroke-width="0.8" stroke-linecap="butt"/>
<line x1="490.00" y1="344.20" x2="490.00" y2="347.80" stroke="#db8c16" stroke-width="0.8" stroke-linecap="butt"/>
<line x1="494.00" y1="344.20" x2="494.00" y2="347.80" stroke="#db8c16" stroke-width="0.8" stroke-linecap="butt"/>
<line x1="497.00" y1="344.20" x2="497.00" y2="347.80" stroke="#db8c16" stroke-width="0.8" stroke-linecap="butt"/>
<line x1="500.00" y1="344.20" x2="500.00" y2="347.80" stroke="#db8c16" stroke-width="0.8" stroke-linecap="butt"/>
<line x1="504.00" y1="344.20" x2="504.00" y2="347.80" stroke="#db8c16" stroke-width="0.8" stroke-linecap="butt"/>
<path d="M320.70,272.30 H321.20 V273.60 H330.00 V275.70 H338.70 V277.30 H344.40 V278.80 H345.90 V280.30 H356.90 V282.00 H357.90 V283.90 H363.70 V285.80 H368.00 V287.60 H369.30 V289.60 H370.50 V291.70 H374.10 V294.90 H383.75 V296.80 H386.20 V298.75 H390.00 V300.40 H396.25 V302.50 H397.00 V304.50 H399.60 V306.90 H401.50 V309.00 H403.00 V311.25 H409.60 V315.20 H417.10 V320.30 H421.70 V322.30 H428.10 V325.80 H436.70 V327.50 H439.60 V329.80 H442.50 V332.70 H458.10 V334.70 H479.80 V336.20 H485.00 V337.30 H486.20 V339.60 H496.00 V341.90 H508.10 V346.00 H511.00 V349.40" fill="none" stroke="#3c4257" stroke-width="1.4"/>
<line x1="451.70" y1="330.90" x2="451.70" y2="334.50" stroke="#3c4257" stroke-width="0.8" stroke-linecap="butt"/>
<line x1="468.30" y1="332.90" x2="468.30" y2="336.50" stroke="#3c4257" stroke-width="0.8" stroke-linecap="butt"/>
<line x1="469.40" y1="332.90" x2="469.40" y2="336.50" stroke="#3c4257" stroke-width="0.8" stroke-linecap="butt"/>
<line x1="474.60" y1="332.90" x2="474.60" y2="336.50" stroke="#3c4257" stroke-width="0.8" stroke-linecap="butt"/>
<line x1="482.00" y1="334.40" x2="482.00" y2="338.00" stroke="#3c4257" stroke-width="0.8" stroke-linecap="butt"/>
<line x1="485.60" y1="335.50" x2="485.60" y2="339.10" stroke="#3c4257" stroke-width="0.8" stroke-linecap="butt"/>
<line x1="491.30" y1="337.80" x2="491.30" y2="341.40" stroke="#3c4257" stroke-width="0.8" stroke-linecap="butt"/>
<line x1="500.60" y1="340.10" x2="500.60" y2="343.70" stroke="#3c4257" stroke-width="0.8" stroke-linecap="butt"/>
<line x1="505.20" y1="340.10" x2="505.20" y2="343.70" stroke="#3c4257" stroke-width="0.8" stroke-linecap="butt"/>
<path d="M61.10,515.00 H63.70 V524.70 H70.10 V534.70 H72.00 V544.60 H83.00 V554.50 H89.60 V574.30 H102.60 V584.30 H113.80 V594.20 H116.90 V604.10 H177.50 V624.00" fill="none" stroke="#9e0b2c" stroke-width="1.4"/>
<line x1="166.20" y1="602.30" x2="166.20" y2="605.90" stroke="#9e0b2c" stroke-width="0.8" stroke-linecap="butt"/>
<path d="M61.10,515.00 H63.30 V530.40 H65.50 V561.60 H156.30 V577.20 H160.00 V592.80 H187.70 V608.40 H251.70 V608.40" fill="none" stroke="#44495d" stroke-width="1.4"/>
<path d="M320.40,515.00 H321.25 V524.70 H323.75 V534.70 H325.50 V544.60 H338.00 V554.50 H346.75 V564.50 H350.75 V574.30 H356.75 V584.30 H357.50 V594.20 H358.25 V604.10 H374.25 V624.00" fill="none" stroke="#9e0b2c" stroke-width="1.4"/>
<line x1="370.75" y1="602.30" x2="370.75" y2="605.90" stroke="#9e0b2c" stroke-width="0.8" stroke-linecap="butt"/>
<path d="M320.40,515.00 H329.25 V530.40 H338.75 V546.00 H383.40 V561.60 H439.20 V577.20 H464.30 V592.80 H476.90 V608.40 H485.50 V624.00" fill="none" stroke="#44495d" stroke-width="1.4"/>
<rect x="0" y="0" width="520" height="1" fill="#000"/>
<rect x="0" y="0" width="1.1" height="726" fill="#000"/>
<rect x="518.8" y="0" width="1.2" height="726" fill="#000"/>
<rect x="0" y="724.5" width="520" height="1.5" fill="#000"/>
</svg></body></html>
